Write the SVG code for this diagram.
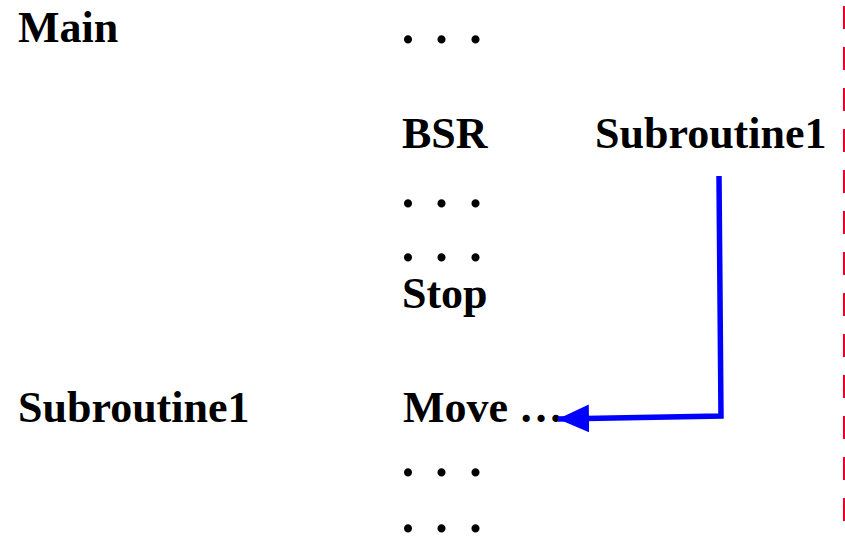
<svg xmlns="http://www.w3.org/2000/svg" width="845" height="536" viewBox="0 0 845 536">
  <style>
    .t { font-family: "Liberation Serif", "Times New Roman", serif; font-weight: bold; font-size: 44px; fill: #000; }
    .dots { font-size: 50px; }
    .flow { fill: none; stroke: #0000FF; stroke-width: 5.5; stroke-linejoin: miter; }
    .margin { stroke: #E8002E; stroke-width: 2; stroke-dasharray: 23 18; }
  </style>
  <defs>
    <marker id="arrowhead" markerUnits="userSpaceOnUse" markerWidth="32" markerHeight="30" refX="31" refY="14" orient="auto">
      <path d="M0,0 L31,14 L0,28 Z" fill="#0000FF"/>
    </marker>
  </defs>

  <rect width="845" height="536" fill="#FFFFFF"/>

  <!-- page margin -->
  <line class="margin" x1="844" y1="6" x2="844" y2="536"/>

  <!-- labels -->
  <g id="label-main"><text class="t" x="18" y="42">Main</text></g>
  <g id="label-subroutine1"><text class="t" x="18" y="422">Subroutine1</text></g>

  <!-- main program -->
  <g id="main-dots-1"><text class="t dots" x="401.7 435.2 469.2" y="43">...</text></g>
  <g id="main-bsr"><text class="t" x="402" y="148">BSR</text></g>
  <g id="main-bsr-target"><text class="t" x="595" y="148">Subroutine1</text></g>
  <g id="main-dots-2"><text class="t dots" x="401.7 435.2 469.2" y="206.5">...</text></g>
  <g id="main-dots-3"><text class="t dots" x="401.7 435.2 469.2" y="260.5">...</text></g>
  <g id="main-stop"><text class="t" x="402" y="308">Stop</text></g>

  <!-- subroutine body -->
  <g id="sub-move"><text class="t" x="403" y="422">Move …</text></g>
  <g id="sub-dots-1"><text class="t dots" x="401.7 435.2 469.2" y="476">...</text></g>
  <g id="sub-dots-2"><text class="t dots" x="401.7 435.2 469.2" y="532">...</text></g>

  <!-- branch to subroutine -->
  <g id="connectors">
    <polyline class="flow" points="719,176 721,416 558,419" marker-end="url(#arrowhead)"/>
  </g>
</svg>
